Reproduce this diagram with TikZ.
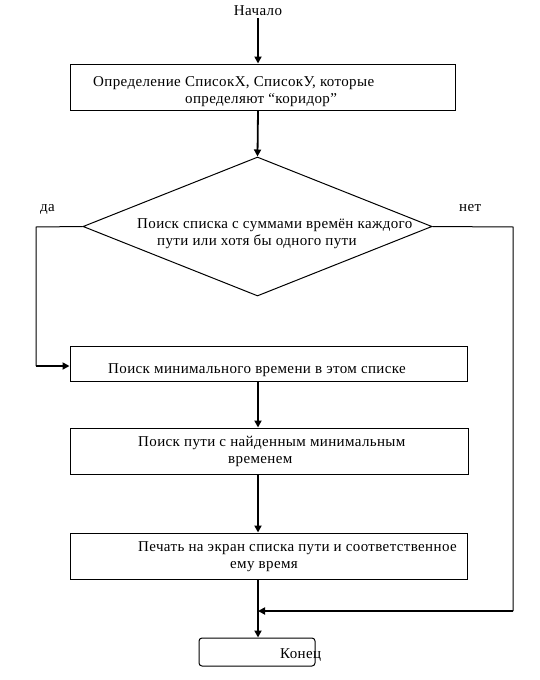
\documentclass[tikz,border=0pt]{standalone}
\usepackage{fontspec}
\setmainfont{Liberation Serif}[LetterSpace=2.5]
\usetikzlibrary{arrows.meta,shapes.geometric}
\begin{document}
\begin{tikzpicture}[x=1pt,y=-1pt,
  box/.style={draw,line width=1pt,inner sep=0pt},
  lbl/.style={anchor=base west,inner sep=0pt,font=\fontsize{15}{18}\selectfont},
  arr/.style={line width=1.8pt,-{Triangle[length=7pt,width=7pt]}},
  thinline/.style={line width=1pt}]
\useasboundingbox (0,0) rectangle (539,680);
% nodes
\node[lbl,anchor=base,inner ysep=3pt] (start) at (258,15) {Начало};
\node[box,minimum width=385pt,minimum height=46pt] (b1) at (262.5,87) {};
\node[lbl] (t1a) at (93,86) {Определение СписокХ, СписокУ, которые};
\node[lbl] (t1b) at (185,103) {определяют “коридор”};
\node[draw,diamond,line width=1pt,inner sep=0pt,minimum width=349pt,minimum height=139pt] (d) at (257.5,226.5) {};
\node[lbl] (tda) at (137,228) {Поиск списка с суммами времён каждого};
\node[lbl] (tdb) at (157,245) {пути или хотя бы одного пути};
\node[lbl] (yes) at (40,211) {да};
\node[lbl] (no) at (459,211) {нет};
\node[box,minimum width=397pt,minimum height=35pt] (b2) at (268.5,363.5) {};
\node[lbl] (t2) at (108,373) {Поиск минимального времени в этом списке};
\node[box,minimum width=398pt,minimum height=46pt] (b3) at (269,451) {};
\node[lbl] (t3a) at (138,446) {Поиск пути с найденным минимальным};
\node[lbl] (t3b) at (228,463) {временем};
\node[box,minimum width=397pt,minimum height=46pt] (b4) at (268.5,556) {};
\node[lbl] (t4a) at (138,551) {Печать на экран списка пути и соответственное};
\node[lbl] (t4b) at (230,568) {ему время};
\node[box,rounded corners=3pt,minimum width=116pt,minimum height=28pt] (fin) at (257,652) {};
\node[lbl] (t5) at (280,658) {Конец};
% connectors
\coordinate (ly) at (36,227);
\coordinate (lb) at (36,366);
\coordinate (ry) at (513,227);
\coordinate (rb) at (513,611);
\draw[arr] (start) -- (start |- b1.north);
\draw[arr] (start |- b1.south) -- (d.north);
\draw[thinline] (d.west) -- (ly) -- (lb);
\draw[arr] (lb) -- (lb -| b2.west);
\draw[thinline] (d.east) -- (ry) -- (rb);
\draw[arr] (rb) -- (start |- rb);
\draw[arr] (start |- b2.south) -- (start |- b3.north);
\draw[arr] (start |- b3.south) -- (start |- b4.north);
\draw[arr] (start |- b4.south) -- (start |- fin.north);
\end{tikzpicture}
\end{document}
